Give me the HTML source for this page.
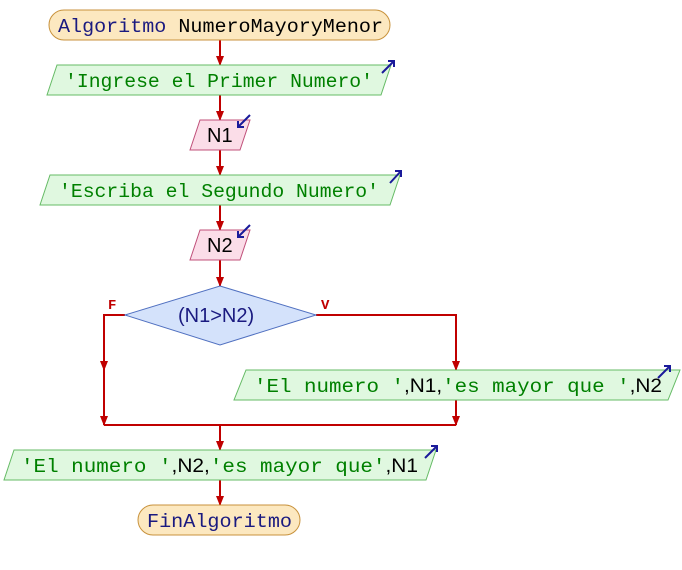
<!DOCTYPE html>
<html><head><meta charset="utf-8"><style>body{margin:0;background:#fff}svg{display:block}</style></head><body>
<svg width="682" height="570" viewBox="0 0 682 570" xmlns="http://www.w3.org/2000/svg">
<defs><marker id="a" markerWidth="10" markerHeight="8" refX="9" refY="4" orient="auto" markerUnits="userSpaceOnUse"><path d="M0,0 L10,4 L0,8z" fill="#c00000"/></marker></defs>
<g stroke="#c00000" stroke-width="2" fill="none">
<line x1="220" y1="40" x2="220" y2="65" marker-end="url(#a)"/>
<line x1="220" y1="95" x2="220" y2="120" marker-end="url(#a)"/>
<line x1="220" y1="150" x2="220" y2="175" marker-end="url(#a)"/>
<line x1="220" y1="205" x2="220" y2="230" marker-end="url(#a)"/>
<line x1="220" y1="260" x2="220" y2="286" marker-end="url(#a)"/>
<polyline points="125,315 104,315 104,370" marker-end="url(#a)"/>
<line x1="104" y1="368" x2="104" y2="425" marker-end="url(#a)"/>
<polyline points="316,315 456,315 456,370" marker-end="url(#a)"/>
<line x1="456" y1="400" x2="456" y2="425" marker-end="url(#a)"/>
<line x1="104" y1="425" x2="456" y2="425"/>
<line x1="220" y1="425" x2="220" y2="450" marker-end="url(#a)"/>
<line x1="220" y1="480" x2="220" y2="505" marker-end="url(#a)"/>
</g>
<rect x="49" y="10" width="341" height="30" rx="15" fill="#fce8c0" stroke="#c8923c"/>
<rect x="138" y="505" width="162" height="30" rx="15" fill="#fce8c0" stroke="#c8923c"/>
<g fill="#e0f8e0" stroke="#66bb66">
<polygon points="57,65 391,65 381,95 47,95"/>
<polygon points="50,175 400,175 390,205 40,205"/>
<polygon points="246,370 680,370 668,400 234,400"/>
<polygon points="14,450 436,450 426,480 4,480"/>
</g>
<g fill="#fbdde8" stroke="#c0507a">
<polygon points="200,120 250,120 240,150 190,150"/>
<polygon points="200,230 250,230 240,260 190,260"/>
</g>
<polygon points="220,286 316,315 220,345 125,315" fill="#d4e2fb" stroke="#5070c0"/>
<g stroke="#1a1a9a" stroke-width="2" fill="none">
<path d="M382,73 L394,61 M388,61 L394,61 L394,67"/>
<path d="M390,183 L401,171 M395,171 L401,171 L401,177"/>
<path d="M658,378 L670,366 M664,366 L670,366 L670,372"/>
<path d="M425,458 L437,446 M431,446 L437,446 L437,452"/>
<path d="M250,115 L238,127 M238,121 L238,127 L244,127"/>
<path d="M250,225 L238,237 M238,231 L238,237 L244,237"/>
</g>
<g font-family="Liberation Mono, monospace" font-size="19.5px" lengthAdjust="spacingAndGlyphs">
<text x="58" y="32" fill="#1a1a80" textLength="325" lengthAdjust="spacingAndGlyphs">Algoritmo <tspan fill="#000">NumeroMayoryMenor</tspan></text>
<text x="65" y="87" fill="#008000" textLength="308" lengthAdjust="spacingAndGlyphs">'Ingrese el Primer Numero'</text>
<text x="59" y="197" fill="#008000" textLength="320" lengthAdjust="spacingAndGlyphs">'Escriba el Segundo Numero'</text>
<text x="147" y="527" fill="#1a1a80" textLength="145" lengthAdjust="spacingAndGlyphs">FinAlgoritmo</text>
</g>
<g font-family="Liberation Sans, sans-serif" font-size="20px">
<text x="207" y="142" fill="#000">N1</text>
<text x="207" y="252" fill="#000">N2</text>
<text x="178" y="322" fill="#1a1a80">(N1&gt;N2)</text>
<text x="254" y="392" font-family="Liberation Mono, monospace" font-size="19.5px" fill="#008000" textLength="408" lengthAdjust="spacingAndGlyphs">'El numero '<tspan fill="#000" font-family="Liberation Sans">,N1,</tspan>'es mayor que '<tspan fill="#000" font-family="Liberation Sans">,N2</tspan></text>
<text x="21" y="472" font-family="Liberation Mono, monospace" font-size="19.5px" fill="#008000" textLength="397" lengthAdjust="spacingAndGlyphs">'El numero '<tspan fill="#000" font-family="Liberation Sans">,N2,</tspan>'es mayor que'<tspan fill="#000" font-family="Liberation Sans">,N1</tspan></text>
</g>
<g font-family="Liberation Mono, monospace" font-size="14px" font-weight="bold" fill="#c00000">
<text x="108" y="309">F</text>
<text x="321" y="309">V</text>
</g>
</svg>
</body></html>
